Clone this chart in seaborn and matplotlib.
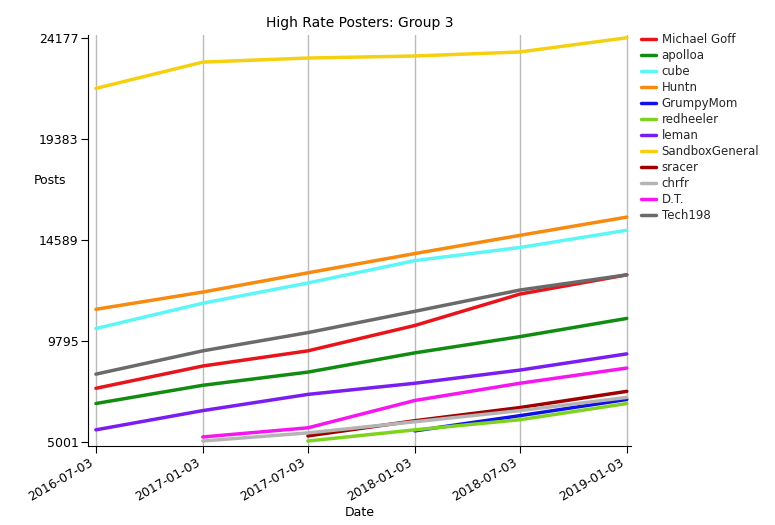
import matplotlib
matplotlib.use("Agg")
import matplotlib.pyplot as plt
import seaborn as sns
import pandas as pd
import numpy as np

dates = ["2016-07-03", "2017-01-03", "2017-07-03", "2018-01-03", "2018-07-03", "2019-01-03"]
names = ["Michael Goff", "apolloa", "cube", "Huntn", "GrumpyMom", "redheeler", "leman",
         "SandboxGeneral", "sracer", "chrfr", "D.T.", "Tech198"]
colors = ["#e8141b", "#118c11", "#5cf6f6", "#f78a0f", "#1010e8", "#7ed321", "#7a1df0",
          "#f5d00f", "#a00000", "#b4b4b4", "#f516f0", "#6a6a6a"]
michael_goff = [7548, 8606, 9326, 10528, 12018, 12931]
apolloa = [6827, 7692, 8317, 9230, 9999, 10864]
cube = [10384, 11585, 12546, 13604, 14229, 15045]
huntn = [11297, 12114, 13027, 13940, 14805, 15670]
grumpymom = [None, None, None, 5530, 6251, 7019]
redheeler = [None, None, 5049, 5578, 6058, 6827]
leman = [5578, 6491, 7260, 7788, 8413, 9182]
sandbox = [21774, 23023, 23216, 23312, 23504, 24177]
sracer = [None, None, 5289, 6010, 6635, 7404]
chrfr = [None, 5049, 5433, 5962, 6491, 7116]
dt = [None, 5241, 5674, 6971, 7788, 8509]
tech198 = [8221, 9326, 10191, 11201, 12210, 12931]
series = [michael_goff, apolloa, cube, huntn, grumpymom, redheeler, leman,
          sandbox, sracer, chrfr, dt, tech198]
yticks = [5001, 9795, 14589, 19383, 24177]

rows = []
for n, s in zip(names, series):
    for d, v in zip(dates, s):
        if v is not None:
            rows.append({"Date": pd.Timestamp(d), "Posts": v, "name": n})
df = pd.DataFrame(rows)

fig = plt.figure(figsize=(7.75, 5.25), dpi=100)
ax = fig.add_axes([0.114, 0.15, 0.70, 0.783])
sns.set_style("white")
sns.lineplot(data=df, x="Date", y="Posts", hue="name", hue_order=names,
             palette=dict(zip(names, colors)), linewidth=2.5, ax=ax)
ax.set_xlim(pd.Timestamp("2016-06-20"), pd.Timestamp("2019-01-10"))
ax.set_ylim(4800, 24300)
ax.set_yticks(yticks)
ax.set_yticklabels([str(t) for t in yticks], fontsize=9)
ax.set_xticks([pd.Timestamp(d) for d in dates])
ax.set_xticklabels(dates, rotation=30, ha="right", fontsize=9)
ax.grid(axis="x", color="#bbbbbb", linewidth=1)
for sp in ["top", "right"]:
    ax.spines[sp].set_visible(False)
ax.tick_params(direction="out", length=5, pad=2)
ax.set_title("High Rate Posters: Group 3", fontsize=10)
ax.set_xlabel("Date", fontsize=9, labelpad=2)
ax.set_ylabel("Posts", rotation=0, fontsize=9)
ax.yaxis.set_label_coords(-0.07, 0.63)
ax.legend(loc="upper left", bbox_to_anchor=(1.0, 1.03), frameon=False,
          fontsize=8.5, handlelength=1.2, labelspacing=0.25, handletextpad=0.5)
fig.savefig("out.png", dpi=100)
